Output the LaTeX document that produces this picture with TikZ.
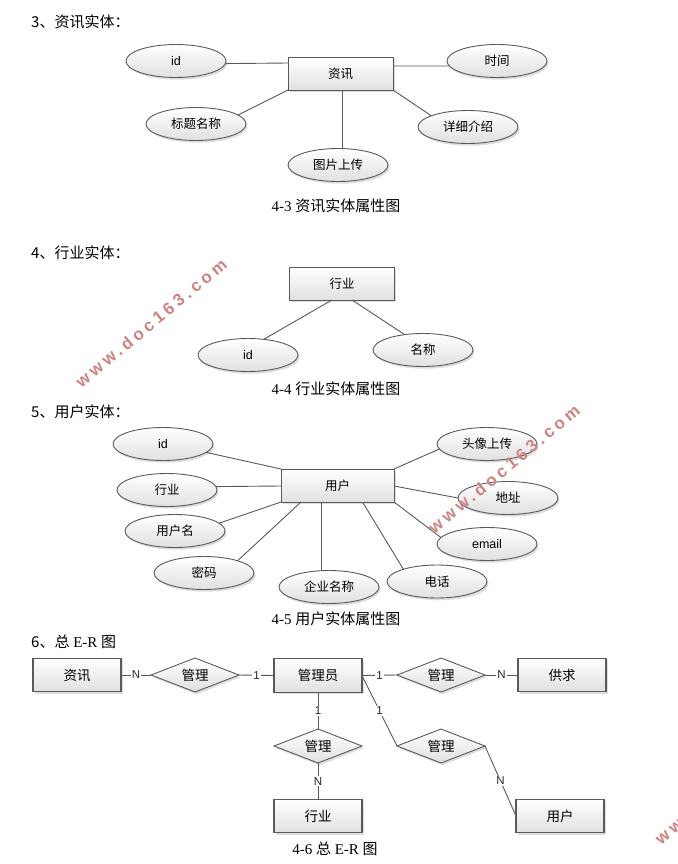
\documentclass[tikz,border=0pt]{standalone}
\usepackage{fontspec}
\setmainfont{Noto Sans CJK SC}
\newfontfamily\latinlabel{Liberation Sans}
\newfontfamily\capfont{Liberation Serif}
\newfontfamily\wmfont[LetterSpace=22]{Liberation Sans}
\usetikzlibrary{shapes.geometric,shadows}
\definecolor{edge}{HTML}{5A5A5A}
\definecolor{wmark}{HTML}{D08282}
\tikzset{
  softshadow/.style={drop shadow={shadow xshift=1.6pt,shadow yshift=-2.2pt,fill=black!22,opacity=.6}},
  base/.style={draw=edge,line width=.9pt,top color=white,bottom color=black!12,softshadow,inner sep=0pt,outer sep=0pt,font=\fontsize{12.5}{13}\selectfont},
  attr/.style={base,ellipse,minimum width=100pt,minimum height=33pt},
  ent/.style={base,rectangle,minimum width=105pt,minimum height=33pt},
  bigent/.style={base,rectangle,minimum width=113pt,minimum height=33pt},
  erent/.style={base,rectangle,minimum width=88pt,minimum height=33.5pt,line width=1.1pt,font=\fontsize{13.5}{14}\selectfont},
  rel/.style={base,diamond,aspect=2.6,minimum width=88pt,minimum height=34pt,font=\fontsize{13.5}{14}\selectfont},
  link/.style={draw=edge,line width=.9pt},
  card/.style={fill=white,inner sep=1pt,font=\latinlabel\fontsize{11.5}{12}\selectfont,text=black!85},
  heading/.style={anchor=west,inner sep=0pt,font=\fontsize{15}{16}\selectfont},
  caption/.style={inner sep=0pt,font=\fontsize{15}{16}\selectfont},
  wm/.style={inner sep=0pt,rotate=39.7,text=wmark,font=\wmfont\bfseries\fontsize{17}{18}\selectfont}
}
\begin{document}
\begin{tikzpicture}[x=1pt,y=-1pt]
\useasboundingbox (0,0) rectangle (677,864);
\fill[white] (0,0) rectangle (677,864);

% section 3
\node[heading] (h3) at (31,22) {3、资讯实体：};
\node[ent] (news) at (340.5,73.5) {资讯};
\node[attr] (a1) at (176,61) {\latinlabel id};
\node[attr] (a2) at (196,124) {标题名称};
\node[attr] (a3) at (338,165) {图片上传};
\node[attr] (a4) at (468,127) {详细介绍};
\node[attr] (a5) at (497,61) {时间};
\draw[link] (a1.-3) -- ([yshift=10.5pt]news.west);
\draw[link] (a2.12) -- (news.south west);
\draw[link] ([xshift=1.5pt]news.south) -- ([xshift=4pt]a3.north);
\draw[link] (news.south east) -- (a4.163);
\draw[link] ([yshift=7.5pt]news.east) -- (a5.186);
\node[caption] (c3) at (336,206) {{\capfont 4-3 }资讯实体属性图};

% section 4
\node[heading] (h4) at (31,253) {4、行业实体：};
\node[ent] (ind) at (342,283.5) {行业};
\node[attr] (b1) at (248,355) {\latinlabel id};
\node[attr] (b2) at (423,350) {名称};
\draw[link] ([xshift=-10pt]ind.south) -- (b1.45);
\draw[link] ([xshift=10pt]ind.south) -- (b2.140);
\node[caption] (c4) at (336,389) {{\capfont 4-4 }行业实体属性图};

% section 5
\node[heading] (h5) at (31,412) {5、用户实体：};
\node[bigent] (usr) at (337.5,485.5) {用户};
\node[attr] (u1) at (163,444) {\latinlabel id};
\node[attr] (u2) at (167,490) {行业};
\node[attr] (u3) at (175,531) {用户名};
\node[attr] (u4) at (204,573) {密码};
\node[attr] (u5) at (329,587) {企业名称};
\node[attr] (u6) at (437,581.5) {电话};
\node[attr] (u7) at (487,544) {\latinlabel email};
\node[attr] (u8) at (508,498) {地址};
\node[attr] (u9) at (487,444) {头像上传};
\draw[link] (u1.-11) -- (usr.north west);
\draw[link] (u2.4) -- ([yshift=-.5pt]usr.west);
\draw[link] (u3.10) -- (usr.south west);
\draw[link] (u4.20) -- ([xshift=20pt]usr.south west);
\draw[link] ([xshift=-16.5pt]usr.south) -- ([xshift=-8pt]u5.north);
\draw[link] ([xshift=25pt]usr.south) -- (u6.160);
\draw[link] (usr.south east) -- (u7.172);
\draw[link] ([yshift=-.5pt]usr.east) -- (u8.west);
\draw[link] (usr.north east) -- (u9.186);
\node[caption] (c5) at (336,619) {{\capfont 4-5 }用户实体属性图};

% section 6
\node[heading] (h6) at (31,642) {6、总{\capfont\ E-R }图};
\node[erent] (e1) at (77,675) {资讯};
\node[rel] (r1) at (195,675) {管理};
\node[erent] (e2) at (318,675.5) {管理员};
\node[rel] (r2) at (441,675) {管理};
\node[erent] (e3) at (562,675) {供求};
\node[rel] (r3) at (318,746) {管理};
\node[erent] (e4) at (318,816) {行业};
\node[rel] (r4) at (441,746) {管理};
\node[erent] (e5) at (560,816) {用户};
\draw[link] (e1.east) -- node[card] (k1) {N} (r1.west);
\draw[link] (r1.east) -- node[card] (k2) {1} (e2.west);
\draw[link] (e2.east) -- node[card,pos=.5] (k3) {1} (r2.west);
\draw[link] (r2.east) -- node[card] (k4) {N} (e3.west);
\draw[link] (e2.south) -- node[card] (k5) {1} (r3.north);
\draw[link] (r3.south) -- node[card] (k6) {N} (e4.north);
\draw[link] (e2.east) -- node[card] (k7) {1} (r4.west);
\draw[link] (r4.east) -- node[card] (k8) {N} (e5.west);
\node[caption] (c6) at (335,849) {{\capfont 4-6 }总{\capfont\ E-R }图};

% watermarks
\node[wm] (w1) at (151,323) {www.doc163.com};
\node[wm] (w2) at (504,469) {www.doc163.com};
\begin{scope}
\clip (0,0) rectangle (677,864);
\node[wm,anchor=west] (w3) at (658,842) {ww};
\end{scope}
\end{tikzpicture}
\end{document}
